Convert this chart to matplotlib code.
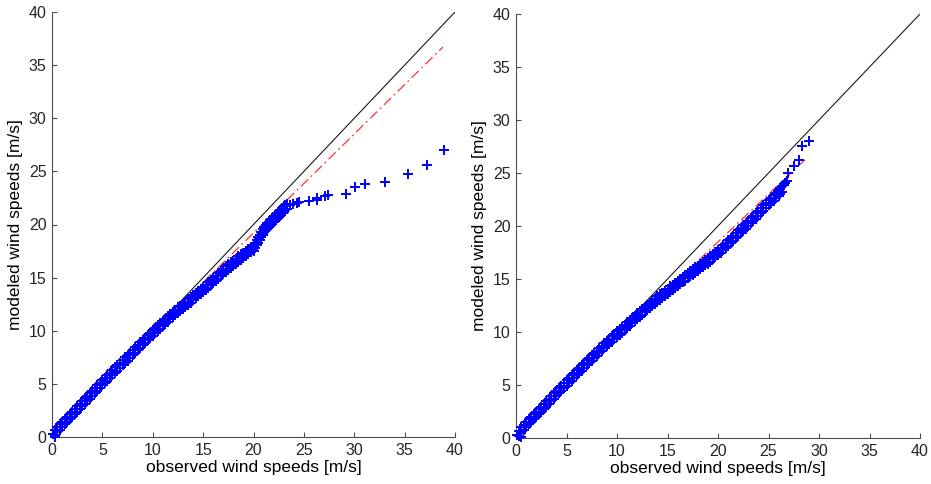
import matplotlib.pyplot as plt

plt.rcParams['font.family'] = ['Liberation Sans', 'DejaVu Sans']

# ---- left panel ----
# dense part of the q-q cloud: observed quantile, lower / upper edge of the modeled band
dense_x_a = [0.25, 0.5, 0.75, 1.0, 1.25, 1.5, 1.75, 2.0, 2.25, 2.5,
             2.75, 3.0, 3.25, 3.5, 3.75, 4.0, 4.25, 4.5, 4.75, 5.0,
             5.25, 5.5, 5.75, 6.0, 6.25, 6.5, 6.75, 7.0, 7.25, 7.5,
             7.75, 8.0, 8.25, 8.5, 8.75, 9.0, 9.25, 9.5, 9.75, 10.0,
             10.25, 10.5, 10.75, 11.0, 11.25, 11.5, 11.75, 12.0, 12.25, 12.5,
             12.75, 13.0, 13.25, 13.5, 13.75, 14.0, 14.25, 14.5, 14.75, 15.0,
             15.25, 15.5, 15.75, 16.0, 16.25, 16.5, 16.75, 17.0, 17.25, 17.5,
             17.75, 18.0, 18.25, 18.5, 18.75, 19.0, 19.25, 19.5, 19.75, 20.0,
             20.15, 20.3, 20.45, 20.6, 20.75, 20.9, 21.05, 21.2, 21.35, 21.5,
             21.65, 21.8, 21.95, 22.1, 22.25, 22.4, 22.55, 22.7, 22.85, 23.0,
             23.15, 23.3]
dense_lo_a = [0.15, 0.45, 0.7, 0.95, 1.2, 1.4, 1.65, 1.9, 2.15, 2.4,
              2.65, 2.9, 3.15, 3.4, 3.6, 3.85, 4.1, 4.35, 4.6, 4.85,
              5.05, 5.3, 5.55, 5.8, 6.05, 6.25, 6.5, 6.75, 7.0, 7.2,
              7.45, 7.7, 7.95, 8.15, 8.4, 8.65, 8.85, 9.1, 9.3, 9.55,
              9.75, 10.0, 10.2, 10.45, 10.65, 10.85, 11.1, 11.3, 11.5, 11.7,
              11.85, 12.05, 12.25, 12.45, 12.65, 12.85, 13.05, 13.25, 13.45, 13.65,
              13.85, 14.05, 14.3, 14.5, 14.7, 14.9, 15.15, 15.35, 15.55, 15.75,
              15.95, 16.1, 16.3, 16.5, 16.7, 16.85, 17.05, 17.2, 17.4, 17.55,
              17.8, 18.05, 18.3, 18.55, 18.8, 19.05, 19.25, 19.45, 19.6, 19.75,
              19.9, 20.05, 20.2, 20.3, 20.45, 20.6, 20.75, 20.9, 21.05, 21.2,
              21.35, 21.45]
dense_hi_a = [0.65, 0.95, 1.2, 1.45, 1.7, 1.9, 2.15, 2.4, 2.65, 2.9,
              3.15, 3.4, 3.65, 3.9, 4.1, 4.35, 4.6, 4.85, 5.1, 5.35,
              5.55, 5.8, 6.05, 6.3, 6.55, 6.75, 7.0, 7.25, 7.5, 7.7,
              7.95, 8.2, 8.45, 8.65, 8.9, 9.15, 9.35, 9.6, 9.8, 10.05,
              10.25, 10.5, 10.7, 10.95, 11.15, 11.35, 11.6, 11.8, 12.0, 12.2,
              12.35, 12.55, 12.75, 12.95, 13.15, 13.35, 13.55, 13.75, 13.95, 14.15,
              14.35, 14.55, 14.8, 15.0, 15.2, 15.4, 15.65, 15.85, 16.05, 16.25,
              16.45, 16.6, 16.8, 17.0, 17.2, 17.35, 17.55, 17.7, 17.9, 18.05,
              18.3, 18.55, 18.8, 19.05, 19.3, 19.55, 19.75, 19.95, 20.1, 20.25,
              20.4, 20.55, 20.7, 20.8, 20.95, 21.1, 21.25, 21.4, 21.55, 21.7,
              21.85, 21.95]
# sparse points (lowest few and the upper tail)
tail_x_a = [0.1, 0.3, 23.6, 23.95, 24.28, 24.5, 25.48, 26.27, 26.34, 27.13, 27.42,
            29.15, 30.07, 31.1, 33.08, 35.37, 37.25, 38.94]
tail_y_a = [0.25, 0.0, 21.8, 21.93, 22.05, 22.15, 22.2, 22.3, 22.46, 22.68, 22.78,
            22.9, 23.5, 23.8, 23.97, 24.8, 25.6, 27.0]
fit_x_a = [0.0, 38.8]
fit_y_a = [0.6, 36.7]

# ---- right panel ----
dense_x_b = [0.25, 0.5, 0.75, 1.0, 1.25, 1.5, 1.75, 2.0, 2.25, 2.5,
             2.75, 3.0, 3.25, 3.5, 3.75, 4.0, 4.25, 4.5, 4.75, 5.0,
             5.25, 5.5, 5.75, 6.0, 6.25, 6.5, 6.75, 7.0, 7.25, 7.5,
             7.75, 8.0, 8.25, 8.5, 8.75, 9.0, 9.25, 9.5, 9.75, 10.0,
             10.25, 10.5, 10.75, 11.0, 11.25, 11.5, 11.75, 12.0, 12.25, 12.5,
             12.75, 13.0, 13.25, 13.5, 13.75, 14.0, 14.25, 14.5, 14.75, 15.0,
             15.25, 15.5, 15.75, 16.0, 16.25, 16.5, 16.75, 17.0, 17.25, 17.5,
             17.75, 18.0, 18.25, 18.5, 18.75, 19.0, 19.25, 19.5, 19.75, 20.0,
             20.25, 20.5, 20.75, 21.0, 21.25, 21.5, 21.75, 22.0, 22.25, 22.5,
             22.75, 23.0, 23.25, 23.5, 23.75, 24.0, 24.25, 24.5, 24.75, 25.0,
             25.25, 25.5, 25.75, 26.0, 26.15, 26.3]
dense_lo_b = [0.2, 0.5, 0.75, 1.05, 1.3, 1.5, 1.75, 2.0, 2.25, 2.45,
              2.7, 2.95, 3.2, 3.45, 3.7, 3.95, 4.2, 4.45, 4.7, 4.95,
              5.2, 5.4, 5.65, 5.9, 6.15, 6.35, 6.6, 6.85, 7.05, 7.3,
              7.55, 7.75, 8.0, 8.2, 8.45, 8.65, 8.85, 9.1, 9.3, 9.55,
              9.75, 9.95, 10.2, 10.4, 10.6, 10.85, 11.05, 11.25, 11.45, 11.65,
              11.85, 12.05, 12.25, 12.45, 12.65, 12.85, 13.05, 13.2, 13.4, 13.6,
              13.8, 13.95, 14.15, 14.35, 14.5, 14.7, 14.85, 15.05, 15.25, 15.4,
              15.6, 15.75, 15.95, 16.1, 16.3, 16.45, 16.65, 16.85, 17.05, 17.25,
              17.45, 17.7, 17.9, 18.15, 18.35, 18.6, 18.85, 19.1, 19.3, 19.55,
              19.75, 20.0, 20.25, 20.45, 20.7, 20.95, 21.2, 21.45, 21.7, 21.95,
              22.15, 22.4, 22.6, 22.85, 23.05, 23.25]
dense_hi_b = [0.7, 1.0, 1.25, 1.55, 1.8, 2.0, 2.25, 2.5, 2.75, 2.95,
              3.2, 3.45, 3.7, 3.95, 4.2, 4.45, 4.7, 4.95, 5.2, 5.45,
              5.7, 5.9, 6.15, 6.4, 6.65, 6.85, 7.1, 7.35, 7.55, 7.8,
              8.05, 8.25, 8.5, 8.7, 8.95, 9.15, 9.35, 9.6, 9.8, 10.05,
              10.25, 10.45, 10.7, 10.9, 11.1, 11.35, 11.55, 11.75, 11.95, 12.15,
              12.35, 12.55, 12.75, 12.95, 13.15, 13.35, 13.55, 13.7, 13.9, 14.1,
              14.3, 14.45, 14.65, 14.85, 15.0, 15.2, 15.35, 15.55, 15.75, 15.9,
              16.1, 16.25, 16.45, 16.6, 16.8, 16.95, 17.15, 17.35, 17.55, 17.75,
              17.95, 18.2, 18.4, 18.65, 18.85, 19.1, 19.35, 19.6, 19.8, 20.05,
              20.25, 20.5, 20.75, 20.95, 21.2, 21.45, 21.7, 21.95, 22.2, 22.45,
              22.65, 22.9, 23.1, 23.35, 23.55, 23.75]
tail_x_b = [0.1, 0.5, 26.5, 26.6, 26.8, 26.9, 27.5, 28.0, 28.3, 29.0]
tail_y_b = [0.3, 0.1, 23.9, 24.1, 24.25, 25.0, 25.7, 26.2, 27.5, 28.0]
fit_x_b = [0.0, 28.6]
fit_y_b = [0.5, 26.24]

ticks = [0, 5, 10, 15, 20, 25, 30, 35, 40]
xlab = 'observed wind speeds [m/s]'
ylab = 'modeled wind speeds [m/s]'

fig = plt.figure(figsize=(9.31, 4.84), dpi=100)
ax1 = fig.add_axes([52/931, 1-437/484, 403/931, 425/484])
ax2 = fig.add_axes([516/931, 1-438/484, 404/931, 424/484])

panels = [
    (ax1, dense_x_a, dense_lo_a, dense_hi_a, tail_x_a, tail_y_a, fit_x_a, fit_y_a),
    (ax2, dense_x_b, dense_lo_b, dense_hi_b, tail_x_b, tail_y_b, fit_x_b, fit_y_b),
]
mk = dict(marker='+', ls='none', color='#0000ff', ms=6.5, mew=1.4, zorder=3, clip_on=False)
for ax, dx, dlo, dhi, tx, ty, fx, fy in panels:
    ax.plot([0, 40], [0, 40], color='#1a1a1a', lw=0.8, zorder=1)
    ax.plot(fx, fy, color='#ff3030', lw=0.9, ls=(0, (8, 3, 1.5, 3)), zorder=2)
    ax.plot(dx, dlo, **mk)
    ax.plot(dx, dhi, **mk)
    ax.plot(tx, ty, **mk)
    ax.set_xlim(0, 40)
    ax.set_ylim(0, 40)
    ax.set_xticks(ticks)
    ax.set_yticks(ticks)
    for s in ['top', 'right']:
        ax.spines[s].set_visible(False)
    for s in ['left', 'bottom']:
        ax.spines[s].set_color('#4d4d4d')
        ax.spines[s].set_linewidth(0.8)
    ax.tick_params(direction='in', length=3.5, width=0.8, color='#4d4d4d',
                   labelsize=11.5, labelcolor='#262626', pad=4)
    ax.set_xlabel(xlab, fontsize=12.5)
    ax.set_ylabel(ylab, fontsize=12.5)
    ax.xaxis.set_label_coords(0.5, -0.055)
    ax.yaxis.set_label_coords(-0.072, 0.5)

fig.savefig('out.png', dpi=100)
